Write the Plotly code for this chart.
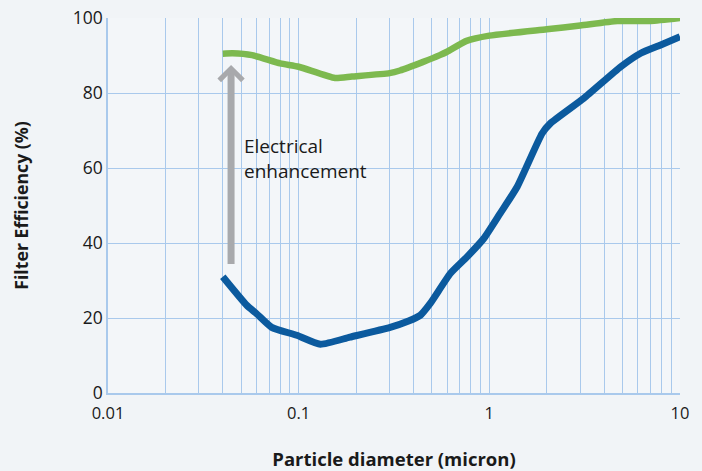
import math
import plotly.graph_objects as go

# ---- data ----
green_x = [0.04, 0.045, 0.057, 0.08, 0.1, 0.155, 0.19, 0.30, 0.34, 0.45, 0.55, 0.6, 0.76, 1.0, 2.0, 3.0, 4.7, 7.0, 10.0]
green_y = [90.5, 90.6, 90.1, 87.9, 87.0, 84.0, 84.4, 85.3, 86.0, 88.3, 90.1, 91.0, 93.9, 95.3, 97.0, 98.0, 99.2, 99.2, 100.0]

blue_x = [0.04, 0.0534, 0.060, 0.0722, 0.0977, 0.13, 0.186, 0.302, 0.377, 0.434, 0.49, 0.625, 0.764, 0.935, 1.14, 1.4, 1.89, 2.09, 3.13, 4.89, 6.22, 7.92, 10.0]
blue_y = [31.0, 23.4, 21.2, 17.5, 15.4, 13.0, 14.9, 17.5, 19.2, 20.7, 23.9, 31.9, 36.3, 41.2, 47.9, 55.0, 69.2, 71.9, 78.6, 87.0, 90.6, 92.8, 95.0]

x_tickvals = [m * 10.0 ** e for e in (-2, -1, 0) for m in range(1, 10)] + [10.0]
x_ticktext = ["0.01"] + [""] * 8 + ["0.1"] + [""] * 8 + ["1"] + [""] * 8 + ["10"]
y_tickvals = [0, 20, 40, 60, 80, 100]

arrow_x = 0.0442
arrow_y_start = 34
arrow_y_end = 87.5
label_x = 0.0503
label_y = 62.5
label_text = "Electrical<br>enhancement"

FONT = "Open Sans, Noto Sans, sans-serif"
GRID = "#a9c9ec"

fig = go.Figure()
fig.add_trace(go.Scatter(x=green_x, y=green_y, mode="lines",
                         line=dict(color="#7db94f", width=6.5, shape="spline", smoothing=0.5),
                         hoverinfo="skip", showlegend=False))
fig.add_trace(go.Scatter(x=blue_x, y=blue_y, mode="lines",
                         line=dict(color="#0b5a9e", width=7, shape="spline", smoothing=0.5),
                         hoverinfo="skip", showlegend=False))

fig.add_annotation(x=math.log10(arrow_x), y=arrow_y_end, ax=math.log10(arrow_x), ay=arrow_y_start,
                   xref="x", yref="y", axref="x", ayref="y", text="", showarrow=True,
                   arrowhead=4, arrowsize=0.65, arrowwidth=7, arrowcolor="#a8a9ac", standoff=0)
fig.add_annotation(x=math.log10(label_x), y=label_y, xref="x", yref="y", text=label_text,
                   showarrow=False, xanchor="left", yanchor="middle", align="left",
                   font=dict(family=FONT, size=19, color="#1a1a1a"))

fig.update_xaxes(type="log", range=[-2, 1], tickvals=x_tickvals, ticktext=x_ticktext,
                 showgrid=True, gridcolor=GRID, gridwidth=1, zeroline=False,
                 showline=True, linecolor=GRID, linewidth=1.5, ticks="", ticklabelstandoff=4,
                 tickfont=dict(family=FONT, size=16.5, color="#1a1a1a"),
                 title=dict(text="<b>Particle diameter (micron)</b>", standoff=33,
                            font=dict(family=FONT, size=18.5, color="#1a1a1a")))
fig.update_yaxes(range=[0, 100], tickvals=y_tickvals, showgrid=True, gridcolor=GRID, gridwidth=1,
                 zeroline=False, showline=True, linecolor=GRID, linewidth=1.5, ticks="",
                 tickfont=dict(family=FONT, size=17.5, color="#1a1a1a"),
                 title=dict(text="<b>Filter Efficiency (%)</b>", standoff=40,
                            font=dict(family=FONT, size=17.7, color="#1a1a1a")))

fig.update_layout(width=702, height=471,
                  margin=dict(l=108, r=22, t=18, b=78, autoexpand=False),
                  paper_bgcolor="#f1f4f7", plot_bgcolor="#f3f6f9",
                  showlegend=False)

fig.write_html("out.html", config={"displayModeBar": False},
               post_script="document.body.style.margin='0';document.body.style.background='#f1f4f7';")
